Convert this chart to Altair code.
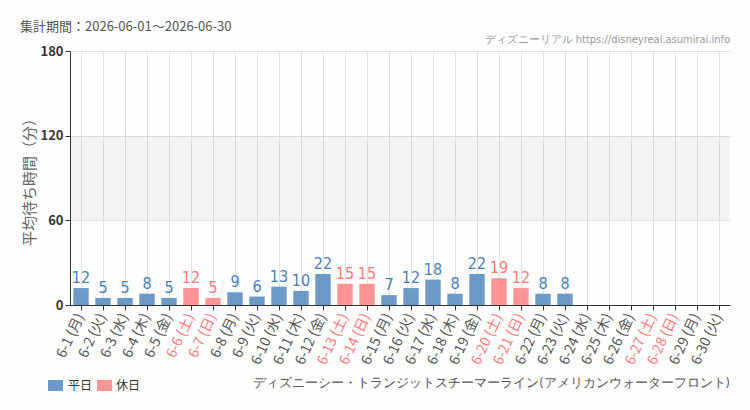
import altair as alt
import pandas as pd

days = [f"6-{d}" for d in range(1, 31)]
dows = ["月", "火", "水", "木", "金", "土", "日"] * 5
dows = dows[:30]
values = [12, 5, 5, 8, 5, 12, 5, 9, 6, 13, 10, 22, 15, 15, 7, 12, 18, 8, 22, 19, 12, 8, 8,
          None, None, None, None, None, None, None]
holidays = ["6-6", "6-7", "6-13", "6-14", "6-20", "6-21", "6-27", "6-28"]

labels = [f"{d} ({w})" for d, w in zip(days, dows)]
kinds = ["休日" if d in holidays else "平日" for d in days]
df = pd.DataFrame({"label": labels, "value": values, "kind": kinds})

W, H = 660, 254
BLUE = "#6b9ac8"
PINK = "#ff9595"
BLUE_T = "#4a80b8"
PINK_T = "#ff7a7a"
NARROW = "DejaVu Sans Condensed"
JP = "Noto Sans CJK JP"

hol_labels = [l for l, k in zip(labels, kinds) if k == "休日"]
test = " || ".join([f"datum.label == '{l}'" for l in hol_labels])

xenc = alt.X("label:N", sort=labels,
             scale=alt.Scale(domain=labels, paddingInner=0.3, paddingOuter=0.15),
             axis=alt.Axis(title=None, labelAngle=-65, labelAlign="right", labelBaseline="middle",
                           labelFont=JP, labelFontSize=14, labelPadding=4,
                           labelColor=alt.ExprRef(expr=f"({test}) ? '{PINK_T}' : '#555555'"),
                           domainColor="#333", tickColor="#333", tickSize=5,
                           grid=True, gridColor="#e3e3e3"))

yscale = alt.Scale(domain=[0, 180])
yaxis = alt.Axis(title="平均待ち時間（分）", titleFont=JP, titleFontSize=15, titleColor="#666",
                 titleFontWeight="normal", titlePadding=2,
                 values=[0, 60, 120, 180], labelFont=JP, labelFontSize=13, labelColor="#333",
                 labelFontWeight="bold",
                 domainColor="#333", tickColor="#333", tickSize=5,
                 grid=True, gridColor="#e3e3e3")

base = alt.Chart(df)

band = alt.Chart(pd.DataFrame({"y": [60], "y2": [120]})).mark_rect(
    color="#000000", opacity=0.045).encode(
    y=alt.Y("y:Q", scale=yscale, axis=yaxis), y2="y2:Q")

bars = base.mark_bar().encode(
    x=xenc,
    y=alt.Y("value:Q", scale=yscale, axis=yaxis),
    color=alt.Color("kind:N", scale=alt.Scale(domain=["平日", "休日"], range=[BLUE, PINK]), legend=None),
)

texts = base.transform_filter("isValid(datum.value)").mark_text(
    font=NARROW, fontSize=16, baseline="bottom", dy=-2).encode(
    x=alt.X("label:N", sort=labels),
    y=alt.Y("value:Q"),
    text=alt.Text("value:Q"),
    color=alt.Color("kind:N", scale=alt.Scale(domain=["平日", "休日"], range=[BLUE_T, PINK_T]), legend=None),
)

def txt(s, x, y, size, color, align="left", font=JP):
    return alt.Chart(pd.DataFrame({"t": [s]})).mark_text(
        font=font, fontSize=size, color=color, align=align, baseline="middle").encode(
        x=alt.value(x), y=alt.value(y), text="t:N")

title = txt("集計期間：2026-06-01～2026-06-30", -50, -24, 13, "#555")
site = txt("ディズニーリアル https://disneyreal.asumirai.info", W, -11, 11, "#999", align="right", font=NARROW)
attraction = txt("ディズニーシー・トランジットスチーマーライン(アメリカンウォーターフロント)", W, H + 78, 12.5, "#555",
                 align="right", font=NARROW)

leg_df = pd.DataFrame({"a": [0]})
leg_rects = alt.Chart(leg_df).mark_rect().encode(
    x=alt.value(-22), x2=alt.value(-7), y=alt.value(H + 75), y2=alt.value(H + 86),
    color=alt.value(BLUE))
leg_rects2 = alt.Chart(leg_df).mark_rect().encode(
    x=alt.value(27), x2=alt.value(42), y=alt.value(H + 75), y2=alt.value(H + 86),
    color=alt.value(PINK))
leg_t1 = txt("平日", -2, H + 81, 12, "#333")
leg_t2 = txt("休日", 46, H + 81, 12, "#333")

chart = alt.layer(band, bars, texts, title, site, attraction, leg_rects, leg_rects2, leg_t1, leg_t2).resolve_scale(
    color="independent").properties(
    width=W, height=H, autosize=alt.AutoSizeParams(type="none"),
    padding={"left": 70, "top": 51, "right": 20, "bottom": 105},
    background="#fdfefd",
).configure_view(stroke=None)

chart.save("out.html", embed_options={"renderer": "svg", "actions": False})
